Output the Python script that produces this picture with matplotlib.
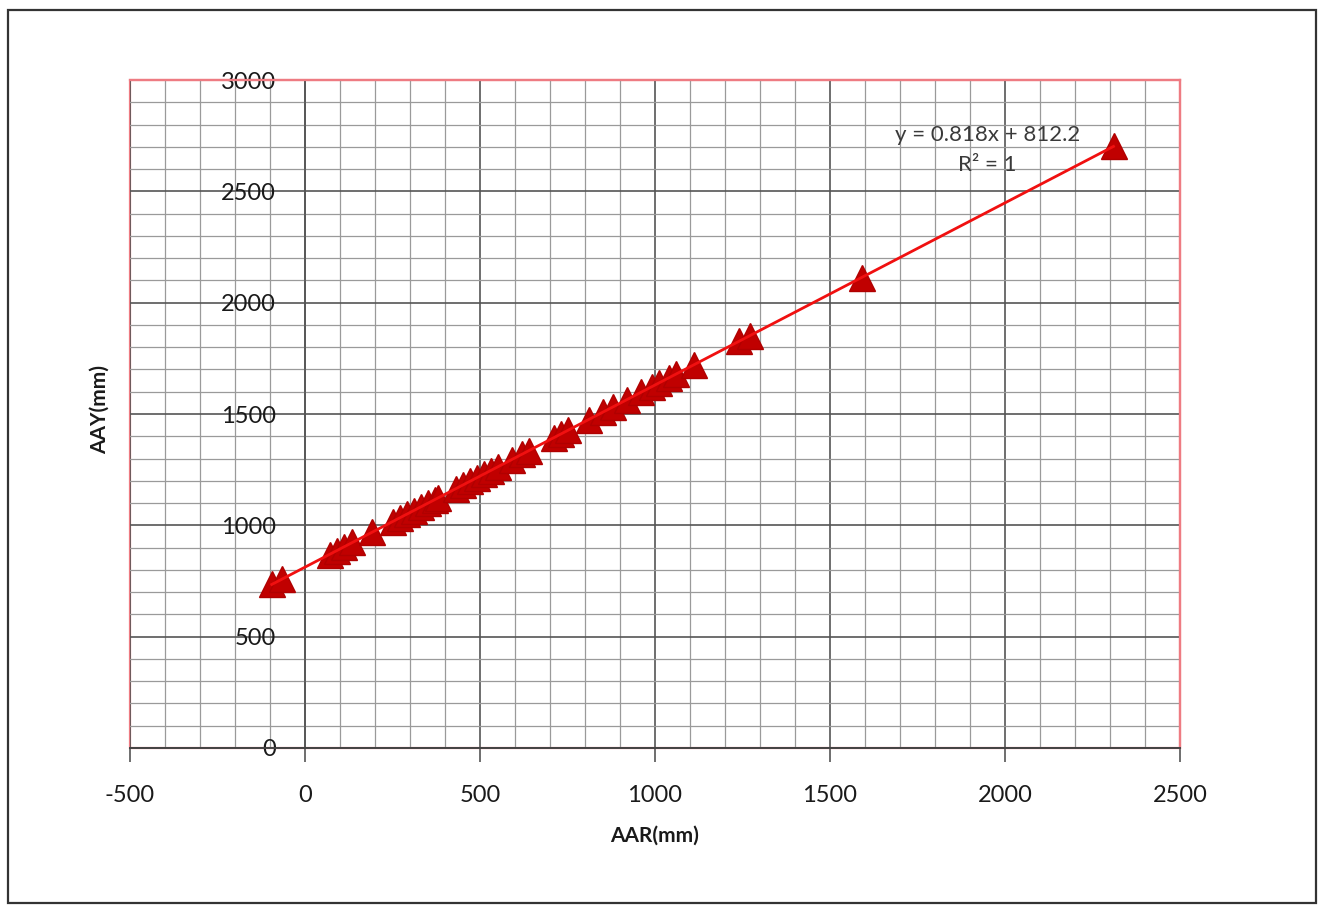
import matplotlib
matplotlib.use("Agg")
import matplotlib.pyplot as plt
from matplotlib.patches import Rectangle
from matplotlib.ticker import MultipleLocator
import numpy as np

plt.rcParams['font.family'] = ['Lato', 'DejaVu Sans']
plt.rcParams['axes.unicode_minus'] = False

# Data
aar = [-95, -65, 70, 90, 110, 135, 190, 250, 270, 290, 310, 330, 350, 370, 380,
       430, 450, 470, 490, 510, 530, 550, 590, 620, 640, 710, 730, 750, 810, 850,
       880, 920, 960, 990, 1010, 1040, 1060, 1110, 1240, 1270, 1590, 2310]
aay = [735, 759, 869, 886, 902, 923, 968, 1017, 1033, 1049, 1066, 1082, 1099, 1115, 1123,
       1164, 1180, 1197, 1213, 1229, 1246, 1262, 1295, 1319, 1336, 1393, 1409, 1426, 1475, 1508,
       1532, 1565, 1597, 1622, 1638, 1663, 1679, 1720, 1827, 1851, 2113, 2702]
x_ticks = [-500, 0, 500, 1000, 1500, 2000, 2500]
y_ticks = [0, 500, 1000, 1500, 2000, 2500, 3000]
trend_slope = 0.818
trend_intercept = 812.2
eq_text = "y = 0.818x + 812.2"
r2_text = "R² = 1"

W, H = 1323, 905
fig = plt.figure(figsize=(W / 100, H / 100), dpi=100)
fig.patch.set_facecolor('white')

# outer chart border
fig.add_artist(Rectangle((8 / W, 2 / H), 1308 / W, 893 / H, transform=fig.transFigure,
                         fill=False, edgecolor='#333333', linewidth=1.6))

ax = fig.add_axes([130 / W, 1 - 748 / H, 1050 / W, 668 / H])
ax.set_xlim(-500, 2500)
ax.set_ylim(0, 3000)

ax.xaxis.set_major_locator(MultipleLocator(500))
ax.yaxis.set_major_locator(MultipleLocator(500))
ax.xaxis.set_minor_locator(MultipleLocator(100))
ax.yaxis.set_minor_locator(MultipleLocator(100))
ax.grid(which='minor', color='#9a9a9a', linewidth=0.9)
ax.grid(which='major', color='#555555', linewidth=1.2)
ax.set_axisbelow(True)

# spines
ax.spines['left'].set_position(('data', 0))
ax.spines['left'].set_color('#555555')
ax.spines['left'].set_linewidth(1.2)
ax.spines['bottom'].set_color('#444444')
ax.spines['bottom'].set_linewidth(1.4)
ax.spines['top'].set_color('#EE7B82')
ax.spines['right'].set_color('#EE7B82')
ax.spines['top'].set_linewidth(1.6)
ax.spines['right'].set_linewidth(1.6)
ax.add_patch(Rectangle((0, 0), 1, 1, transform=ax.transAxes, fill=False,
                       edgecolor='#EE7B82', linewidth=1.6, clip_on=False, zorder=0.5))
ax.spines['bottom'].set_zorder(3)

ax.set_xticks(x_ticks)
ax.set_yticks(y_ticks)
ax.tick_params(axis='x', which='major', length=10, width=1.2, color='#555555', direction='out',
               pad=17, labelsize=17, labelcolor='#1a1a1a')
ax.tick_params(axis='y', which='major', length=0, pad=21, labelsize=17, labelcolor='#1a1a1a')
ax.tick_params(which='minor', length=0)

# markers and trend line
ax.plot(aar, aay, linestyle='none', marker='^', markersize=19, color='#C00000',
        markeredgecolor='#B00000', zorder=4, clip_on=False)
tx = np.array([min(aar), max(aar)])
ax.plot(tx, trend_slope * tx + trend_intercept, color='#F01010', linewidth=2, zorder=5)

ax.text(1950, 2755, eq_text, ha='center', va='center', fontsize=16, color='#3a3a3a', zorder=6)
ax.text(1950, 2620, r2_text, ha='center', va='center', fontsize=16, color='#3a3a3a', zorder=6)

ax.set_xlabel('AAR(mm)', fontsize=15, fontweight='bold', labelpad=14, color='#1a1a1a')
fig.text(100 / W, 1 - 410 / H, 'AAY(mm)', rotation=90, ha='center', va='center',
         fontsize=15, fontweight='bold', color='#1a1a1a')

fig.savefig('out.png', dpi=100)
